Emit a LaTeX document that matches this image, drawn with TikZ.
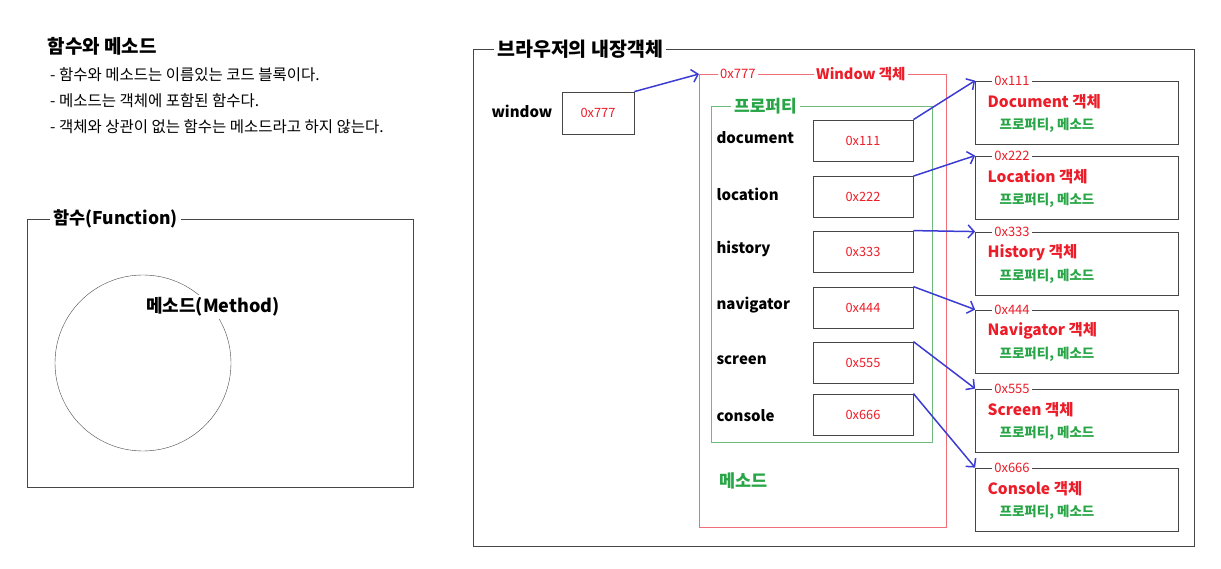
\documentclass[tikz,border=0pt]{standalone}
\usepackage{fontspec}
\setmainfont{Noto Sans CJK KR}
\usetikzlibrary{arrows.meta}

\definecolor{objred}{RGB}{236,28,40}
\definecolor{linered}{RGB}{240,110,120}
\definecolor{propgreen}{RGB}{40,165,70}
\definecolor{linegreen}{RGB}{110,185,125}
\definecolor{ptrblue}{RGB}{60,60,210}
\definecolor{boxgray}{RGB}{70,70,70}

\begin{document}
\begin{tikzpicture}[x=1pt, y=-1pt,
  frame/.style={draw=boxgray, line width=0.9pt},
  heading/.style={font=\bfseries\fontsize{17.5}{20}\selectfont, fill=white, inner sep=3pt},
  bullet/.style={anchor=west, font=\fontsize{15.5}{17}\selectfont, inner sep=0pt},
  rowlabel/.style={anchor=west, font=\bfseries\fontsize{15}{17}\selectfont},
  addrbox/.style={draw=boxgray, line width=0.8pt, minimum width=100pt, minimum height=41pt,
    inner sep=0pt, text=objred, font=\fontsize{12.8}{14}\selectfont},
  objbox/.style={draw=boxgray, line width=0.8pt, minimum width=203pt, minimum height=63pt, inner sep=0pt},
  addrtag/.style={anchor=west, fill=white, inner sep=2pt, text=objred, font=\fontsize{13}{15}\selectfont},
  objtitle/.style={anchor=west, text=objred, font=\bfseries\fontsize{15.5}{17}\selectfont},
  objsub/.style={anchor=west, text=propgreen, font=\bfseries\fontsize{13.5}{15}\selectfont},
  ptr/.style={draw=ptrblue, line width=1.5pt, -{Straight Barb[length=6pt,width=13pt]}}
]
  \useasboundingbox (0,0) rectangle (1221,569);

  % 함수와 메소드
  \node[anchor=west, font=\bfseries\fontsize{19}{22}\selectfont] (intro) at (44,46) {함수와 메소드};
  \node[bullet] (b1) at (50,75) {- 함수와 메소드는 이름있는 코드 블록이다.};
  \node[bullet] (b2) at (50,101) {- 메소드는 객체에 포함된 함수다.};
  \node[bullet] (b3) at (50,127) {- 객체와 상관이 없는 함수는 메소드라고 하지 않는다.};

  \draw[frame] (27,219) rectangle (413,487);
  \node[heading, anchor=west] (fn) at (50,219) {함수(Function)};
  \draw[boxgray, thin] (143,363) circle [radius=88pt];
  \node[heading, font=\bfseries\fontsize{18}{20}\selectfont] (method) at (213,307) {메소드(Method)};

  % 브라우저의 내장객체
  \draw[frame] (473,49) rectangle (1194,546);
  \node[heading, anchor=west, font=\bfseries\fontsize{19.5}{22}\selectfont] (browser) at (494,49) {브라우저의 내장객체};

  \node[rowlabel] (wlabel) at (488,111) {window};
  \node[addrbox, minimum width=72pt, minimum height=42pt] (w) at (598,113) {0x777};

  % Window 객체
  \draw[linered, line width=0.8pt] (699,74) rectangle (946,527);
  \coordinate (winobj) at (699,74);
  \node[addrtag] at (718,74) {0x777};
  \node[addrtag, font=\bfseries\fontsize{14.5}{16}\selectfont] at (814,74) {Window 객체};
  \draw[ptr] (w.north east) -- (winobj);

  \draw[linegreen, line width=0.8pt] (711,106) rectangle (932,442);
  \node[anchor=west, fill=white, inner sep=3pt, text=propgreen, font=\bfseries\fontsize{17}{19}\selectfont] (prop) at (731,106) {프로퍼티};
  \node[anchor=west, text=propgreen, font=\bfseries\fontsize{17.5}{19}\selectfont] (meth) at (716,481) {메소드};

  % properties and the objects they point to
  \foreach \i/\name/\obj/\ly/\ay/\oy in {1/document/Document/138/140.5/112.5,
      2/location/Location/194/197/187.5,
      3/history/History/249/251.5/263.5,
      4/navigator/Navigator/305/307.5/341.5,
      5/screen/Screen/360/362.5/420.5,
      6/console/Console/416/414.5/499.5}{
    \node[rowlabel] (l\i) at (713,\ly) {\name};
    \node[addrbox] (a\i) at (863,\ay) {0x\i\i\i};
    \node[objbox] (o\i) at (1077,\oy) {};
    \node[addrtag] at ([xshift=17pt]o\i.north west) {0x\i\i\i};
    \node[objtitle] at ([xshift=9pt, yshift=-21pt]o\i.north west) {\obj\ 객체};
    \node[objsub] at ([xshift=21pt, yshift=-45pt]o\i.north west) {프로퍼티, 메소드};
    \draw[ptr] (a\i.north east) -- (o\i.north west);
  }
\end{tikzpicture}
\end{document}
